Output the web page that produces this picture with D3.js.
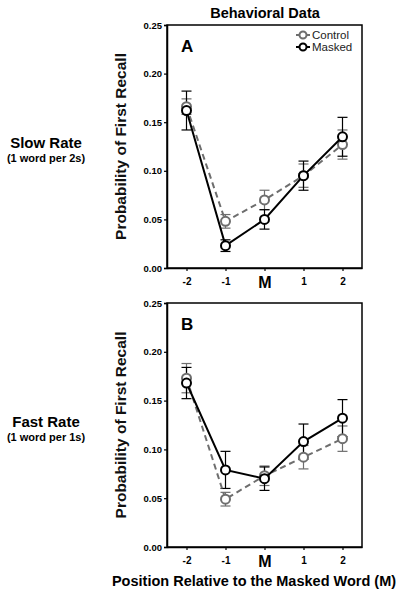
<!DOCTYPE html>
<html><head><meta charset="utf-8">
<script src="https://cdn.jsdelivr.net/npm/d3@7"></script>
<style>body{margin:0;background:#fff}svg{display:block;font-family:Arial,"Liberation Sans",sans-serif}</style>
</head><body><svg id="c" width="404" height="599"></svg>
<script>
const positions = [-2, -1, 0, 1, 2];
const tickLabels = ["-2", "-1", "M", "1", "2"];
const yTicks = [0, 0.05, 0.10, 0.15, 0.20, 0.25];
const seriesNames = ["Control", "Masked"];
// Panel A (slow rate)
const slowControl = [0.166, 0.048, 0.070, 0.095, 0.127];
const slowControlErr = [0.008, 0.007, 0.010, 0.012, 0.015];
const slowMasked = [0.162, 0.023, 0.050, 0.095, 0.135];
const slowMaskedErr = [0.020, 0.006, 0.010, 0.015, 0.020];
// Panel B (fast rate)
const fastControl = [0.173, 0.049, 0.073, 0.092, 0.111];
const fastControlErr = [0.015, 0.007, 0.010, 0.012, 0.013];
const fastMasked = [0.168, 0.079, 0.070, 0.108, 0.132];
const fastMaskedErr = [0.016, 0.019, 0.012, 0.018, 0.019];
const panelLetters = ["A", "B"];
const rowLabels = ["Slow Rate", "Fast Rate"];
const rowSubLabels = ["(1 word per 2s)", "(1 word per 1s)"];

const svg = d3.select("#c");
const x = d3.scaleLinear().domain([-2.5, 2.5]).range([167, 362]);
const panels = [
  {top: 25, bottom: 268, c: slowControl, ce: slowControlErr, m: slowMasked, me: slowMaskedErr},
  {top: 303, bottom: 547, c: fastControl, ce: fastControlErr, m: fastMasked, me: fastMaskedErr}
];
const colors = {Control: "#6e6e6e", Masked: "#000"};

svg.append("text").attr("x", 265).attr("y", 18).attr("text-anchor", "middle")
  .attr("font-weight", "bold").attr("font-size", 14.5).text("Behavioral Data");

panels.forEach((p, pi) => {
  const y = d3.scaleLinear().domain([0, 0.25]).range([p.bottom, p.top]);
  const g = svg.append("g");
  g.append("rect").attr("x", x(-2.5)).attr("y", y(0.25)).attr("width", x(2.5) - x(-2.5))
    .attr("height", y(0) - y(0.25)).attr("fill", "none").attr("stroke", "#000").attr("stroke-width", 1.5);
  const ya = g.append("g").attr("transform", `translate(${x(-2.5)},0)`)
    .call(d3.axisLeft(y).tickValues(yTicks).tickFormat(d3.format(".2f")).tickSize(3).tickPadding(2));
  ya.select(".domain").attr("stroke-width", 1.5);
  ya.selectAll("line").attr("stroke-width", 1.2);
  ya.selectAll("text").attr("font-size", 9.5).attr("font-weight", "bold").attr("font-family", "Arial, Liberation Sans, sans-serif");
  const xa = g.append("g").attr("transform", `translate(0,${y(0)})`)
    .call(d3.axisBottom(x).tickValues(positions).tickFormat((d, i) => tickLabels[i]).tickSize(3).tickPadding(4).tickSizeOuter(0));
  xa.select(".domain").attr("stroke-width", 1.5);
  xa.selectAll("line").attr("stroke-width", 1.2);
  xa.selectAll("text").attr("font-size", d => d === 0 ? 16 : 10).attr("font-weight", "bold")
    .attr("font-family", "Arial, Liberation Sans, sans-serif")
    .attr("dy", d => d === 0 ? "0.8em" : "0.95em");
  svg.append("text").attr("transform", `translate(126,${(p.top + p.bottom) / 2}) rotate(-90)`)
    .attr("text-anchor", "middle").attr("font-size", 15.5).attr("font-weight", "600").attr("fill", "#111")
    .text("Probability of First Recall");
  g.append("text").attr("x", 181).attr("y", y(0.25) + 27).attr("font-size", 17).attr("font-weight", "bold").text(panelLetters[pi]);
  const ry = pi === 0 ? 148 : 427;
  svg.append("text").attr("x", 46).attr("y", ry).attr("text-anchor", "middle").attr("font-size", 15).attr("font-weight", "bold").text(rowLabels[pi]);
  svg.append("text").attr("x", 46).attr("y", ry + 14).attr("text-anchor", "middle").attr("font-size", 11).attr("font-weight", "bold").text(rowSubLabels[pi]);

  const series = [
    {name: "Control", v: p.c, e: p.ce, dash: "6,4", w: 2},
    {name: "Masked", v: p.m, e: p.me, dash: null, w: 2}
  ];
  const line = d3.line().x((d, i) => x(positions[i])).y(d => y(d));
  series.forEach(s => {
    const col = colors[s.name];
    const eg = g.append("g");
    s.v.forEach((v, i) => {
      const cx = x(positions[i]);
      eg.append("line").attr("x1", cx).attr("x2", cx).attr("y1", y(v - s.e[i])).attr("y2", y(v + s.e[i])).attr("stroke", col).attr("stroke-width", 1.2);
      [v - s.e[i], v + s.e[i]].forEach(b => eg.append("line").attr("x1", cx - 5).attr("x2", cx + 5).attr("y1", y(b)).attr("y2", y(b)).attr("stroke", col).attr("stroke-width", 1.2));
    });
  });
  series.forEach(s => {
    const col = colors[s.name];
    g.append("path").datum(s.v).attr("d", line).attr("fill", "none").attr("stroke", col)
      .attr("stroke-width", s.w).attr("stroke-dasharray", s.dash);
    g.selectAll(null).data(s.v).enter().append("circle").attr("cx", (d, i) => x(positions[i])).attr("cy", d => y(d))
      .attr("r", 4.5).attr("fill", "#fff").attr("stroke", col).attr("stroke-width", 2);
  });
  if (pi === 0) {
    seriesNames.forEach((n, i) => {
      const ly = 35 + i * 12;
      const col = colors[n];
      g.append("line").attr("x1", 296).attr("x2", 310).attr("y1", ly).attr("y2", ly).attr("stroke", col).attr("stroke-width", 2);
      g.append("circle").attr("cx", 303).attr("cy", ly).attr("r", 3.5).attr("fill", "#fff").attr("stroke", col).attr("stroke-width", 2);
      g.append("text").attr("x", 312).attr("y", ly + 4).attr("font-size", 11.5).attr("fill", "#222").text(n);
    });
  }
});

svg.append("text").attr("x", 254).attr("y", 586).attr("text-anchor", "middle").attr("font-size", 14.5).attr("font-weight", "bold").text("Position Relative to the Masked Word (M)");
</script></body></html>
